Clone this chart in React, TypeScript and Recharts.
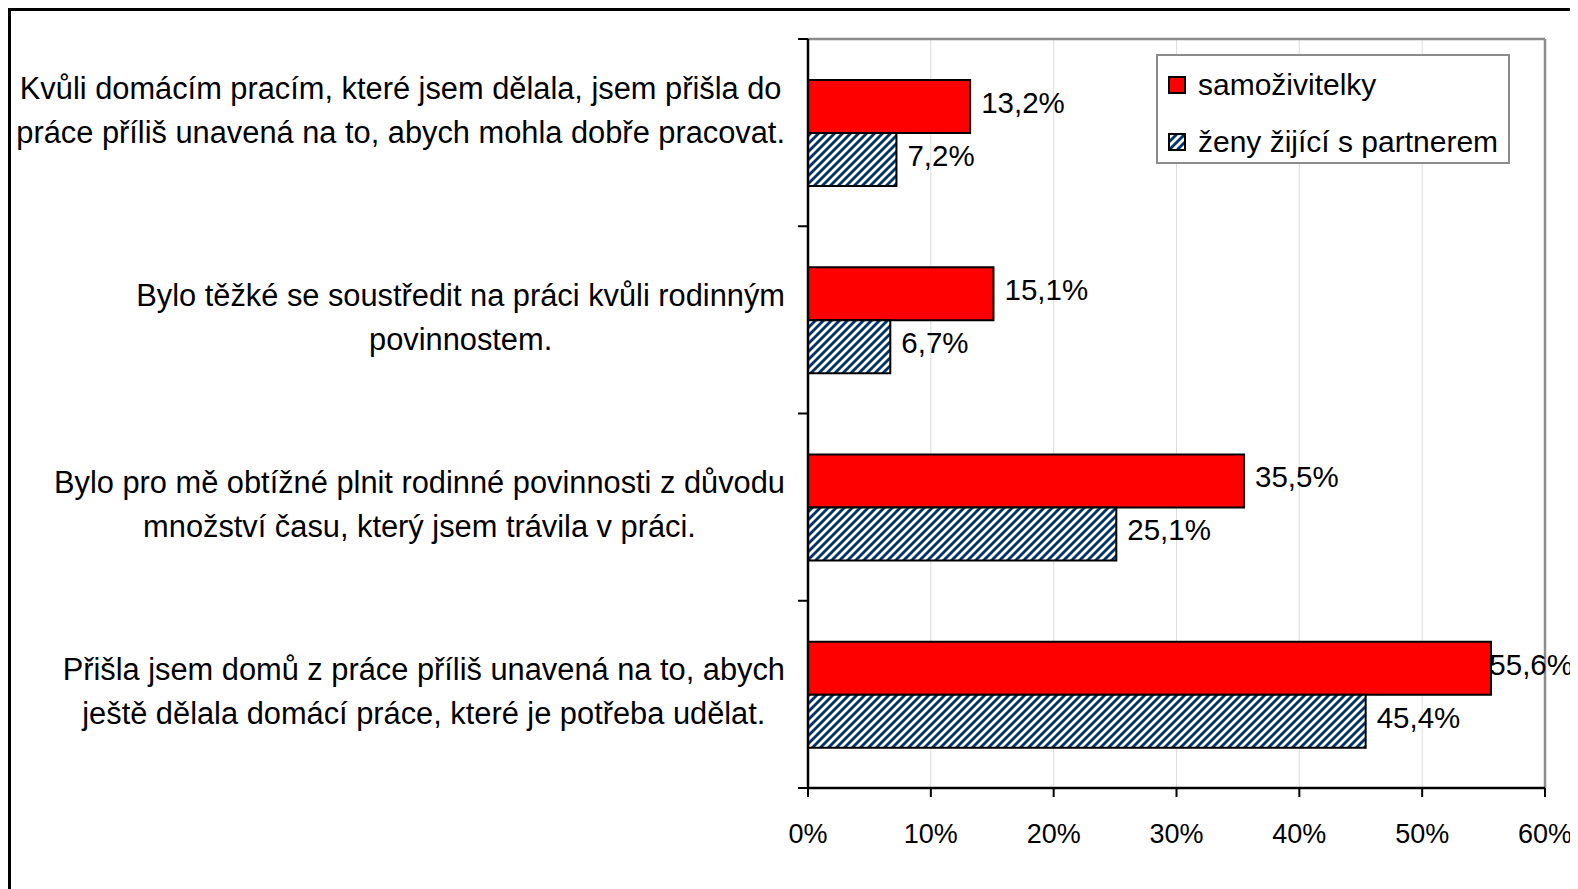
import React from 'react';
import { BarChart, Bar, XAxis, YAxis, CartesianGrid, ReferenceLine, LabelList, Legend } from 'recharts';

const categories = [
  'Kvůli domácím pracím, které jsem dělala, jsem přišla do\npráce příliš unavená na to, abych mohla dobře pracovat.',
  'Bylo těžké se soustředit na práci kvůli rodinným\npovinnostem.',
  'Bylo pro mě obtížné plnit rodinné povinnosti z důvodu\nmnožství času, který jsem trávila v práci.',
  'Přišla jsem domů z práce příliš unavená na to, abych\nještě dělala domácí práce, které je potřeba udělat.',
];
const singleMothers = [13.2, 15.1, 35.5, 55.6];
const withPartner = [7.2, 6.7, 25.1, 45.4];
const xTicks = [0, 10, 20, 30, 40, 50, 60];
const seriesNames = ['samoživitelky', 'ženy žijící s partnerem'];

const data = categories.map((name, i) => ({
  name,
  single: singleMothers[i],
  partner: withPartner[i],
}));

const FONT = '"Liberation Sans", Arial, sans-serif';
const LABEL_SIZE = 30.8;
const LEGEND_SIZE = 30;
const VALUE_SIZE = 29.5;
const LINE_H = 44;
const CHART_W = 1564;
const CHART_H = 878;
const VALUE_LIMIT = 1562;

let ctx: CanvasRenderingContext2D | null = null;
const measure = (s: string, size: number) => {
  if (!ctx) ctx = document.createElement('canvas').getContext('2d');
  if (!ctx) return s.length * size * 0.5;
  ctx.font = `${size}px "Liberation Sans"`;
  return ctx.measureText(s).width;
};

const CategoryTick = (props: any) => {
  const { x, y, payload, index } = props;
  const half = payload.offset || 93.6;
  const lines = String(payload.value).split('\n');
  const blockW = Math.max(...lines.map((l) => measure(l, LABEL_SIZE)));
  const cx = x - 23 - blockW / 2;
  // Excel lifted the first label a bit
  const shift = index === 0 ? -22 : -3;
  const top = y + shift - ((lines.length - 1) * LINE_H) / 2;
  return (
    <g>
      <line x1={x - 10} x2={x} y1={y - half} y2={y - half} stroke="#000" strokeWidth={2} />
      {index === categories.length - 1 && (
        <line x1={x - 10} x2={x} y1={y + half} y2={y + half} stroke="#000" strokeWidth={2} />
      )}
      <text textAnchor="middle" fontSize={LABEL_SIZE} fill="#000" fontFamily={FONT}>
        {lines.map((l, i) => (
          <tspan key={i} x={cx} y={top + i * LINE_H} dy="0.35em">
            {l}
          </tspan>
        ))}
      </text>
    </g>
  );
};

const ValueLabel = (props: any) => {
  const { x, y, width, height, value } = props;
  const text = `${Number(value).toFixed(1).replace('.', ',')}%`;
  const w = measure(text, VALUE_SIZE);
  let tx = x + width + 11;
  if (tx + w > VALUE_LIMIT) tx = VALUE_LIMIT - w;
  return (
    <text x={tx} y={y + height / 2 - 4} dy="0.35em" fontSize={VALUE_SIZE} fill="#000" fontFamily={FONT}>
      {text}
    </text>
  );
};

const LegendBox = () => (
  <div
    style={{
      border: '2.5px solid #8c8c8c',
      background: '#fff',
      boxSizing: 'border-box',
      width: 354,
      height: 110,
      padding: '13px 0 0 10px',
      fontFamily: FONT,
      fontSize: LEGEND_SIZE,
      color: '#000',
      whiteSpace: 'nowrap',
    }}
  >
    {seriesNames.map((n, i) => (
      <div key={n} style={{ display: 'flex', alignItems: 'center', height: 32, marginBottom: i === 0 ? 25 : 0 }}>
        <svg width={18} height={18} style={{ marginRight: 12 }}>
          <rect x={1} y={1} width={16} height={16} fill={i === 0 ? '#ff0000' : 'url(#hatch)'} stroke="#000" strokeWidth={2} />
        </svg>
        <span>{n}</span>
      </div>
    ))}
  </div>
);

export default function App() {
  return (
    <div style={{ width: 1564, height: 900, border: '3px solid #000', background: '#fff' }}>
      <BarChart
        width={CHART_W}
        height={CHART_H}
        data={data}
        layout="vertical"
        margin={{ top: 28, right: 30, bottom: 41, left: 0 }}
        barGap={0}
        barSize={53}
        style={{ fontFamily: FONT }}
      >
        <defs>
          <pattern id="hatch" patternUnits="userSpaceOnUse" width={8} height={8}>
            <rect x={0} y={0} width={8} height={8} fill="#fff" />
            <polygon points="0,0 4,0 0,4" fill="#003366" />
            <polygon points="0,8 8,0 8,4 4,8" fill="#003366" />
          </pattern>
        </defs>
        <CartesianGrid horizontal={false} stroke="#dcdcdc" strokeWidth={1} />
        <CartesianGrid vertical={false} horizontalPoints={[28]} stroke="#8c8c8c" strokeWidth={2.5} />
        <XAxis
          type="number"
          domain={[0, 60]}
          ticks={xTicks}
          tickFormatter={(v) => `${v}%`}
          axisLine={{ stroke: '#000', strokeWidth: 2.5 }}
          tickLine={{ stroke: '#000', strokeWidth: 2 }}
          tickSize={9}
          tickMargin={27}
          height={60}
          tick={{ fill: '#000', fontSize: 27, fontFamily: FONT }}
          interval={0}
        />
        <YAxis
          type="category"
          dataKey="name"
          width={797}
          axisLine={{ stroke: '#000', strokeWidth: 2.5 }}
          tickLine={false}
          tickSize={0}
          tickMargin={0}
          tick={<CategoryTick />}
          interval={0}
        />
        <ReferenceLine x={60} stroke="#8c8c8c" strokeWidth={2.5} />
        <Legend
          layout="horizontal"
          align="center"
          verticalAlign="middle"
          content={<LegendBox />}
          wrapperStyle={{ position: 'absolute', left: 1145, top: 43, width: 354, height: 110 }}
        />
        <Bar dataKey="single" name={seriesNames[0]} fill="#ff0000" stroke="#000" strokeWidth={2} isAnimationActive={false}>
          <LabelList dataKey="single" content={<ValueLabel />} />
        </Bar>
        <Bar dataKey="partner" name={seriesNames[1]} fill="url(#hatch)" stroke="#000" strokeWidth={2} isAnimationActive={false}>
          <LabelList dataKey="partner" content={<ValueLabel />} />
        </Bar>
      </BarChart>
    </div>
  );
}
